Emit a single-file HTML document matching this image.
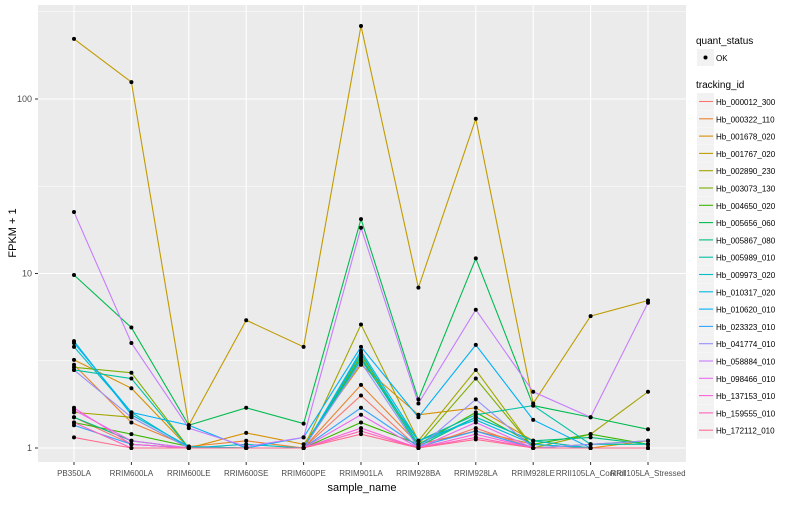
<!DOCTYPE html>
<html><head><meta charset="utf-8"><style>
body{margin:0;background:#fff;font-family:"Liberation Sans",sans-serif}
svg text{font-family:"Liberation Sans",sans-serif}
</style></head><body>
<svg id="chart" width="800" height="500" xmlns="http://www.w3.org/2000/svg">
<rect x="38" y="5" width="648" height="457" fill="#EBEBEB"/>
<g id="grid"></g><g id="lines"></g><g id="points"></g><g id="axes"></g><g id="legend"></g>
<text x="362" y="491" font-size="11" text-anchor="middle" fill="#000">sample_name</text>
<text x="16" y="233" font-size="11" text-anchor="middle" fill="#000" transform="rotate(-90 16 233)">FPKM + 1</text>
</svg>
<script>
const categories=["PB350LA","RRIM600LA","RRIM600LE","RRIM600SE","RRIM600PE","RRIM901LA","RRIM928BA","RRIM928LA","RRIM928LE","RRII105LA_Control","RRII105LA_Stressed"];
const seriesNames=["Hb_000012_300","Hb_000322_110","Hb_001678_020","Hb_001767_020","Hb_002890_230","Hb_003073_130","Hb_004650_020","Hb_005656_060","Hb_005867_080","Hb_005989_010","Hb_009973_020","Hb_010317_020","Hb_010620_010","Hb_023323_010","Hb_041774_010","Hb_058884_010","Hb_098466_010","Hb_137153_010","Hb_159555_010","Hb_172112_010"];
const colors=["#F8766D","#EA8331","#D89000","#C09B00","#A3A500","#7CAE00","#39B600","#00BB4E","#00BF7D","#00C1A3","#00BFC4","#00BAE0","#00B0F6","#35A2FF","#9590FF","#C77CFF","#E76BF3","#FA62DB","#FF62BC","#FF6C91"];
const s000012=[1.5,1.05,1.0,1.0,1.0,2.0,1.0,1.3,1.0,1.0,1.0];
const s000322=[3.0,1.4,1.02,1.1,1.0,2.3,1.05,1.25,1.05,1.0,1.0];
const s001678=[3.2,2.2,1.0,1.22,1.05,3.0,1.55,1.7,1.1,1.0,1.1];
const s001767=[221,125,1.35,5.4,3.8,262,8.3,77,1.8,5.7,7.0];
const s002890=[1.6,1.5,1.0,1.0,1.0,5.1,1.1,2.8,1.0,1.2,2.1];
const s003073=[2.9,2.7,1.0,1.0,1.0,3.4,1.05,2.5,1.0,1.05,1.1];
const s004650=[1.4,1.2,1.02,1.0,1.0,1.4,1.05,1.6,1.05,1.2,1.05];
const s005656=[9.8,4.9,1.35,1.7,1.38,20.5,1.9,12.2,1.75,1.5,1.28];
const s005867=[1.5,1.1,1.0,1.0,1.0,3.3,1.02,1.5,1.1,1.15,1.05];
const s005989=[2.8,2.5,1.0,1.0,1.0,3.2,1.1,1.55,1.75,1.05,1.05];
const s009973=[3.8,1.6,1.0,1.05,1.0,3.5,1.05,1.5,1.1,1.0,1.0];
const s010317=[4.1,1.55,1.02,1.0,1.0,3.6,1.1,1.45,1.05,1.0,1.0];
const s010620=[4.0,1.6,1.35,1.0,1.15,3.8,1.5,3.9,1.45,1.0,1.0];
const s023323=[1.35,1.05,1.0,1.0,1.0,1.7,1.02,1.25,1.0,1.0,1.0];
const s041774=[2.8,1.5,1.0,1.0,1.0,3.1,1.0,1.9,1.0,1.05,1.1];
const s058884=[22.5,4.0,1.3,1.02,1.15,18.3,1.8,6.2,2.1,1.5,6.8];
const s098466=[1.65,1.1,1.0,1.0,1.0,1.55,1.0,1.4,1.0,1.0,1.0];
const s137153=[1.7,1.05,1.0,1.0,1.0,1.3,1.0,1.2,1.0,1.0,1.0];
const s159555=[1.4,1.0,1.0,1.0,1.0,1.25,1.0,1.15,1.0,1.0,1.0];
const s172112=[1.15,1.0,1.0,1.0,1.0,1.2,1.0,1.12,1.0,1.0,1.0];
const seriesValues=[s000012,s000322,s001678,s001767,s002890,s003073,s004650,s005656,s005867,s005989,s009973,s010317,s010620,s023323,s041774,s058884,s098466,s137153,s159555,s172112];
const yTicks=[1,10,100];
const yTickLabels=["1","10","100"];

const NS="http://www.w3.org/2000/svg";
function mk(tag,attrs,parent){const e=document.createElementNS(NS,tag);for(const k in attrs)e.setAttribute(k,attrs[k]);parent.appendChild(e);return e;}
function xScale(i){return 74+i*57.4;}
function yScale(v){return 448-174.5*Math.log10(v);}
const grid=document.getElementById('grid'),lines=document.getElementById('lines'),points=document.getElementById('points'),axes=document.getElementById('axes'),legend=document.getElementById('legend');
[Math.sqrt(10),Math.sqrt(1000),Math.sqrt(100000)].forEach(v=>{const l=mk('line',{x1:38,x2:686,y1:yScale(v),y2:yScale(v),stroke:'#fff','stroke-width':0.6},grid);

});
yTicks.forEach((v,i)=>{const y=yScale(v);
const l=mk('line',{x1:38,x2:686,y1:y,y2:y,stroke:'#fff','stroke-width':1.1},grid);


mk('line',{x1:35,x2:38,y1:y,y2:y,stroke:'#333'},axes);
const t=mk('text',{x:32,y:y+3,'font-size':9,'text-anchor':'end',fill:'#4D4D4D'},axes);t.textContent=yTickLabels[i];

});
categories.forEach((c,i)=>{const x=xScale(i);
const l=mk('line',{x1:x,x2:x,y1:5,y2:462,stroke:'#fff','stroke-width':1.1},grid);


mk('line',{x1:x,x2:x,y1:462,y2:465,stroke:'#333'},axes);
const t=mk('text',{x:x,y:476,'font-size':8,'text-anchor':'middle',fill:'#4D4D4D'},axes);t.textContent=c;

});
seriesValues.forEach((vals,s)=>{
const p=mk('polyline',{points:vals.map((v,i)=>xScale(i)+','+yScale(v)).join(' '),fill:'none',stroke:colors[s],'stroke-width':1.1},lines);


vals.forEach((v,i)=>{const c=mk('circle',{cx:xScale(i),cy:yScale(v),r:2,fill:'#000'},points);

});});
let t=mk('text',{x:696,y:44,'font-size':10,fill:'#000'},legend);t.textContent='quant_status';


mk('rect',{x:697,y:49,width:17,height:17,fill:'#F2F2F2'},legend);
mk('circle',{cx:705.5,cy:57.5,r:2,fill:'#000'},legend);
t=mk('text',{x:716,y:61,'font-size':8,fill:'#000'},legend);t.textContent='OK';


t=mk('text',{x:696,y:88,'font-size':10,fill:'#000'},legend);t.textContent='tracking_id';


seriesNames.forEach((n,i)=>{const y=93+i*17.3;
mk('rect',{x:697,y:y,width:17,height:17,fill:'#F2F2F2'},legend);
mk('line',{x1:699,x2:713,y1:y+8.5,y2:y+8.5,stroke:colors[i],'stroke-width':1.1},legend);
const tt=mk('text',{x:716,y:y+12,'font-size':8,fill:'#000'},legend);tt.textContent=n;

});
</script>
</body></html>
